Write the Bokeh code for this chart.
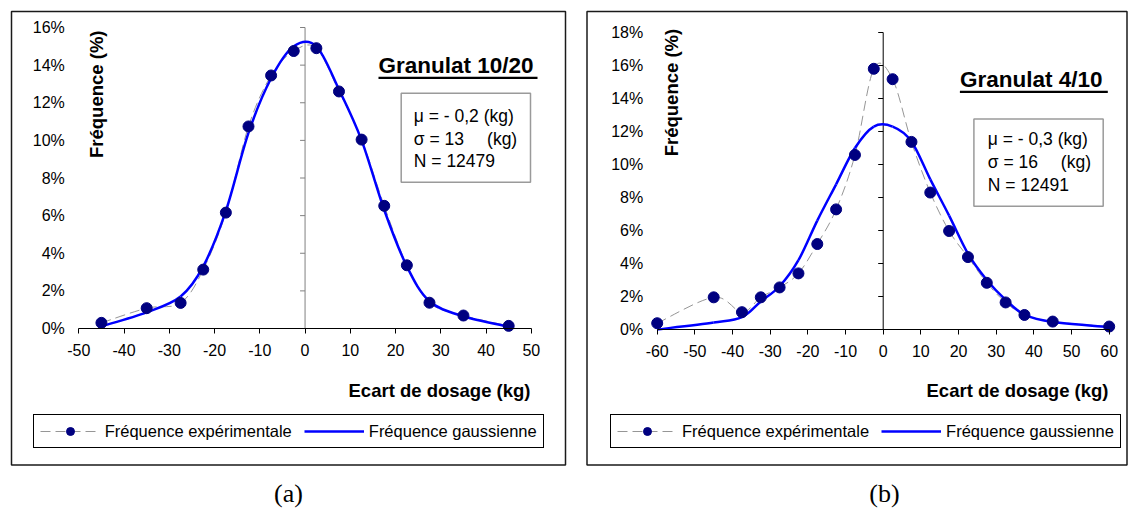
import numpy as np
from bokeh.plotting import figure
from bokeh.models import FixedTicker, Label, BoxAnnotation, Legend, LegendItem, ColumnDataSource
from bokeh.layouts import row
from bokeh.embed import file_html
from bokeh.resources import INLINE

FONT = "Liberation Sans"

# ---------------- (a) Granulat 10/20 ----------------
a_x = [-45, -35, -27.5, -22.5, -17.5, -12.5, -7.5, -2.5, 2.5, 7.5, 12.5, 17.5, 22.5, 27.5, 35, 45]
a_exp = [0.30, 1.08, 1.36, 3.13, 6.16, 10.74, 13.45, 14.75, 14.90, 12.60, 10.04, 6.52, 3.36, 1.37, 0.69, 0.14]
a_gauss = [0.12, 0.86, 1.70, 3.30, 6.25, 10.40, 13.30, 15.00, 15.00, 12.70, 10.00, 6.30, 3.30, 1.45, 0.65, 0.10]
a_xticks = [-50, -40, -30, -20, -10, 0, 10, 20, 30, 40, 50]
a_yticks = [0, 2, 4, 6, 8, 10, 12, 14, 16]
a_title = "Granulat 10/20"
a_stats = ["μ = - 0,2 (kg)", "σ = 13", "(kg)", "N = 12479"]

# ---------------- (b) Granulat 4/10 ----------------
b_x = [-60, -45, -37.5, -32.5, -27.5, -22.5, -17.5, -12.5, -7.5, -2.5, 2.5, 7.5, 12.5, 17.5, 22.5, 27.5, 32.5, 37.5, 45, 60]
b_exp = [0.38, 1.95, 1.05, 1.95, 2.55, 3.40, 5.18, 7.28, 10.58, 15.80, 15.17, 11.37, 8.30, 5.97, 4.39, 2.83, 1.64, 0.88, 0.48, 0.18]
b_gauss = [0.00, 0.42, 0.75, 1.70, 2.62, 4.20, 6.60, 8.80, 11.00, 12.30, 12.30, 11.40, 9.10, 6.90, 4.60, 3.00, 1.80, 0.90, 0.45, 0.15]
b_xticks = [-60, -50, -40, -30, -20, -10, 0, 10, 20, 30, 40, 50, 60]
b_yticks = [0, 2, 4, 6, 8, 10, 12, 14, 16, 18]
b_title = "Granulat 4/10"
b_stats = ["μ = - 0,3 (kg)", "σ = 16", "(kg)", "N = 12491"]

legend_labels = ["Fréquence expérimentale", "Fréquence gaussienne"]
xlabel = "Ecart de dosage (kg)"
ylabel = "Fréquence (%)"

FIG_H = 510


def bezier_source(xs, ys, t=1.0 / 6.0):
    """Smoothed (Catmull-Rom style) path through the data points."""
    n = len(xs)
    d = dict(x0=[], y0=[], x1=[], y1=[], cx0=[], cy0=[], cx1=[], cy1=[])
    for i in range(n - 1):
        i0 = max(i - 1, 0)
        i3 = min(i + 2, n - 1)
        d["x0"].append(xs[i]); d["y0"].append(ys[i])
        d["x1"].append(xs[i + 1]); d["y1"].append(ys[i + 1])
        d["cx0"].append(xs[i] + (xs[i + 1] - xs[i0]) * t)
        d["cy0"].append(ys[i] + (ys[i + 1] - ys[i0]) * t)
        d["cx1"].append(xs[i + 1] - (xs[i3] - xs[i]) * t)
        d["cy1"].append(ys[i + 1] - (ys[i3] - ys[i]) * t)
    return ColumnDataSource(d)


def build(cfg):
    fig_left, fig_w = cfg["fig"]
    (xa, pxa), (xb, pxb) = cfg["xanchor"]
    (ya, pya), (yb, pyb) = cfg["yanchor"]
    sx = (pxb - pxa) / (xb - xa)
    sy = (pya - pyb) / (yb - ya)
    x0 = xa - (pxa - fig_left) / sx
    x1 = x0 + fig_w / sx
    y0 = ya - (FIG_H - pya) / sy
    y1 = y0 + FIG_H / sy

    def X(px):
        return x0 + (px - fig_left) / sx

    def Y(py):
        return y0 + (FIG_H - py) / sy

    p = figure(frame_width=fig_w, frame_height=FIG_H, min_border=0,
               min_border_left=0, min_border_right=0, min_border_top=0, min_border_bottom=0,
               x_range=(x0, x1), y_range=(y0, y1), output_backend="svg",
               toolbar_location=None, tools="")
    p.background_fill_color = "white"
    p.border_fill_color = "white"
    p.outline_line_color = None
    p.xgrid.visible = False
    p.ygrid.visible = False

    xmin, xmax = cfg["xticks"][0], cfg["xticks"][-1]
    ymin, ymax = cfg["yticks"][0], cfg["yticks"][-1]

    # x axis drawn at y = 0
    xaxis = p.xaxis[0]
    xaxis.fixed_location = 0
    xaxis.bounds = (xmin, xmax)
    xaxis.ticker = FixedTicker(ticks=cfg["xticks"])
    xaxis.major_label_overrides = {t: str(t) for t in cfg["xticks"]}
    xaxis.axis_line_color = "black"
    xaxis.axis_line_width = 1
    xaxis.major_tick_line_color = "black"
    xaxis.major_tick_out = 5
    xaxis.major_tick_in = 0
    xaxis.minor_tick_line_color = None
    xaxis.major_label_standoff = 10
    xaxis.major_label_text_font = FONT
    xaxis.major_label_text_font_size = "16px"
    xaxis.major_label_text_color = "black"

    # y axis labels, at the left edge of the data area
    yaxis = p.yaxis[0]
    yaxis.fixed_location = xmin
    yaxis.bounds = (ymin, ymax)
    yaxis.ticker = FixedTicker(ticks=cfg["yticks"])
    yaxis.major_label_overrides = {t: f"{t}%" for t in cfg["yticks"]}
    yaxis.axis_line_color = None
    yaxis.major_tick_line_color = None
    yaxis.minor_tick_line_color = None
    yaxis.major_tick_out = 0
    yaxis.major_tick_in = 0
    yaxis.major_label_standoff = 14
    yaxis.major_label_text_font = FONT
    yaxis.major_label_text_font_size = "16px"
    yaxis.major_label_text_color = "black"

    # vertical axis line at x = 0 with its tick marks
    p.segment(x0=[0], y0=[ymin], x1=[0], y1=[ymax], line_color=cfg["zero_col"], line_width=1)
    p.ray(x=[0] * len(cfg["yticks"]), y=cfg["yticks"], length=5, angle=np.pi,
          length_units="screen", line_color=cfg["zero_col"], line_width=1)

    # series
    grey = p.bezier(x0="x0", y0="y0", x1="x1", y1="y1", cx0="cx0", cy0="cy0",
                    cx1="cx1", cy1="cy1", source=bezier_source(cfg["x"], cfg["exp"]),
                    line_color="#969696", line_width=1, line_dash="10 5")
    blue = p.bezier(x0="x0", y0="y0", x1="x1", y1="y1", cx0="cx0", cy0="cy0",
                    cx1="cx1", cy1="cy1", source=bezier_source(cfg["x"], cfg["gauss"]),
                    line_color="#0000FF", line_width=2.5)
    dots = p.scatter(cfg["x"], cfg["exp"], size=11, fill_color="#000080",
                     line_color="#000080", marker="circle")

    # outer frame
    ob = cfg["outer"]
    p.add_layout(BoxAnnotation(left=X(ob[0]), right=X(ob[2]), top=Y(ob[1]), bottom=Y(ob[3]),
                               fill_color=None, line_color="#1a1a1a", line_alpha=1,
                               line_width=1.5))

    # legend
    leg = Legend(items=[LegendItem(label=legend_labels[0], renderers=[grey, dots]),
                        LegendItem(label=legend_labels[1], renderers=[blue])],
                 orientation="horizontal",
                 location=(cfg["legend"][0] - fig_left, FIG_H - cfg["legend"][1]),
                 glyph_width=60, glyph_height=20, label_standoff=5, spacing=12,
                 padding=6, margin=0,
                 label_text_font=FONT, label_text_font_size="16.5px", label_text_color="black",
                 border_line_color="black", border_line_width=1, border_line_alpha=1,
                 background_fill_color="white", background_fill_alpha=1)
    p.add_layout(leg)

    # y axis title
    p.add_layout(Label(x=X(cfg["ylab"][0]), y=Y(cfg["ylab"][1]), text=ylabel, angle=np.pi / 2,
                       text_align="right", text_baseline="middle", text_font=FONT,
                       text_font_style="bold", text_font_size="18.5px", text_color="black"))
    # x axis title
    p.add_layout(Label(x=X(cfg["xlab"][0]), y=Y(cfg["xlab"][1]), text=xlabel,
                       text_align="right", text_baseline="middle", text_font=FONT,
                       text_font_style="bold", text_font_size="18.5px", text_color="black"))
    # chart title + underline
    tl, tc, tr, ul = cfg["title_pos"]
    p.add_layout(Label(x=X(tl), y=Y(tc), text=cfg["title"], text_align="left",
                       text_baseline="middle", text_font=FONT, text_font_style="bold",
                       text_font_size="22.5px", text_color="black"))
    p.add_layout(BoxAnnotation(left=X(tl), right=X(tr), top=Y(ul - 1.1), bottom=Y(ul + 1.1),
                               fill_color="black", fill_alpha=1, line_color=None))
    # stats box
    bl, bt, br, bbm = cfg["box"]
    p.add_layout(BoxAnnotation(left=X(bl), right=X(br), top=Y(bt), bottom=Y(bbm),
                               fill_color="white", fill_alpha=1, line_color="#9a9a9a",
                               line_alpha=1, line_width=1.5))
    txl, txr, lines_y = cfg["box_text"]
    st = cfg["stats"]
    for txt, px, py, al in [(st[0], txl, lines_y[0], "left"), (st[1], txl, lines_y[1], "left"),
                            (st[2], txr, lines_y[1], "right"), (st[3], txl, lines_y[2], "left")]:
        p.add_layout(Label(x=X(px), y=Y(py), text=txt, text_align=al, text_baseline="middle",
                           text_font=FONT, text_font_size="17.5px", text_color="black"))
    # (a) / (b)
    p.add_layout(Label(x=X(cfg["tag"][0]), y=Y(cfg["tag"][1]), text=cfg["tag_text"],
                       text_align="center", text_baseline="middle", text_font="Liberation Serif",
                       text_font_size="26px", text_color="black"))
    return p


cfg_a = dict(x=a_x, exp=a_exp, gauss=a_gauss, xticks=a_xticks, yticks=a_yticks,
             fig=(0, 578), xanchor=((-50, 78.3), (50, 530.8)), yanchor=((0, 328), (16, 27)),
             zero_col="#808080", outer=(11, 11, 565, 464.5), legend=(32.7, 448),
             ylab=(96.4, 30), xlab=(530, 390), title_pos=(378, 65, 537, 77.3), title=a_title,
             box=(400.7, 92.7, 530, 181.7), box_text=(413.3, 516.7, (115.5, 138, 160.5)),
             stats=a_stats, tag=(288, 493), tag_text="(a)")
cfg_b = dict(x=b_x, exp=b_exp, gauss=b_gauss, xticks=b_xticks, yticks=b_yticks,
             fig=(578, 550), xanchor=((-60, 656.7), (60, 1108.7)), yanchor=((0, 329), (18, 32)),
             zero_col="#000000", outer=(586.5, 11, 1126.5, 464.5), legend=(610, 448),
             ylab=(671, 28.3), xlab=(1108, 389.5), title_pos=(959.4, 79, 1107.3, 91.3), title=b_title,
             box=(973.4, 118.4, 1102.7, 205.7), box_text=(987.3, 1090.5, (138.1, 161.5, 184.3)),
             stats=b_stats, tag=(884, 493), tag_text="(b)")

pa = build(cfg_a)
pb = build(cfg_b)
layout = row(pa, pb)

open("out.html", "w").write(file_html(layout, INLINE))
